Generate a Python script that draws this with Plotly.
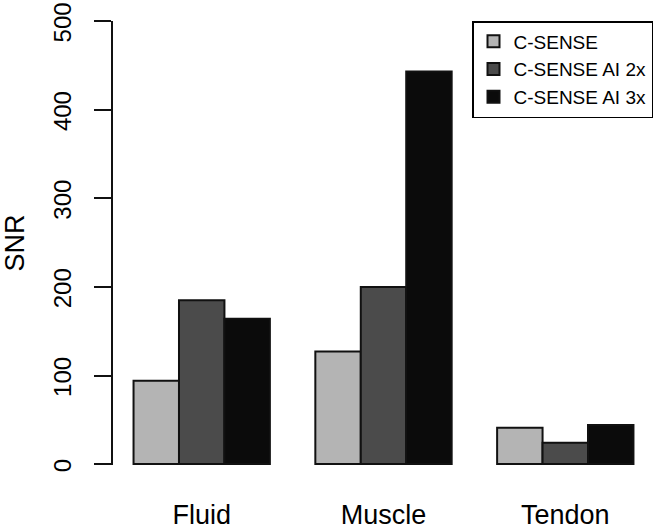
import plotly.graph_objects as go

categories = ["Fluid", "Muscle", "Tendon"]
series_names = ["C-SENSE", "C-SENSE AI 2x", "C-SENSE AI 3x"]
c_sense = [94, 127, 41]
c_sense_ai2 = [185, 200, 24]
c_sense_ai3 = [164, 443, 44]
y_ticks = [0, 100, 200, 300, 400, 500]
colors = ["#b4b4b4", "#4b4b4b", "#0b0b0b"]

W, H = 657, 530
left, right, top, bottom = 113, 640, 21, 464.7

fig = go.Figure()
for name, vals, col in zip(series_names, [c_sense, c_sense_ai2, c_sense_ai3], colors):
    fig.add_trace(go.Bar(
        x=categories, y=vals, name=name,
        marker=dict(color=col, line=dict(color="#111111", width=2)),
    ))

font_family = "Liberation Sans, Arial, Helvetica, sans-serif"
fig.update_layout(
    width=W, height=H,
    margin=dict(l=left, r=W - right, t=top, b=H - bottom, pad=0, autoexpand=False),
    paper_bgcolor="white", plot_bgcolor="white",
    barmode="group", bargap=0.25, bargroupgap=0,
    font=dict(family=font_family, color="black"),
    showlegend=True,
    legend=dict(
        x=(653 - left) / (right - left), xanchor="right",
        y=(bottom - 21) / (bottom - top), yanchor="top",
        bgcolor="white", bordercolor="black", borderwidth=1.5,
        font=dict(size=19, family=font_family, color="black"),
        tracegroupgap=0,
    ),
)
fig.update_xaxes(
    range=[-0.488, 2.411], showline=False, showgrid=False, zeroline=False,
    ticks="", tickfont=dict(size=27), ticklabelstandoff=31, automargin=False,
)
fig.update_yaxes(
    range=[-1, 500.05], tickvals=y_ticks, showgrid=False, zeroline=False,
    showline=True, linecolor="#111111", linewidth=2,
    ticks="outside", ticklen=17, tickwidth=2, tickcolor="#111111",
    tickangle=-90, tickfont=dict(size=24), ticklabelstandoff=13,
    ticklabelshift=5, ticklabeloverflow="allow", automargin=False,
    title=dict(text="SNR", font=dict(size=27), standoff=27),
)
fig.write_html(
    "out.html",
    config={"displayModeBar": False},
    post_script="document.body.style.margin='0';document.body.style.overflow='hidden';",
)
